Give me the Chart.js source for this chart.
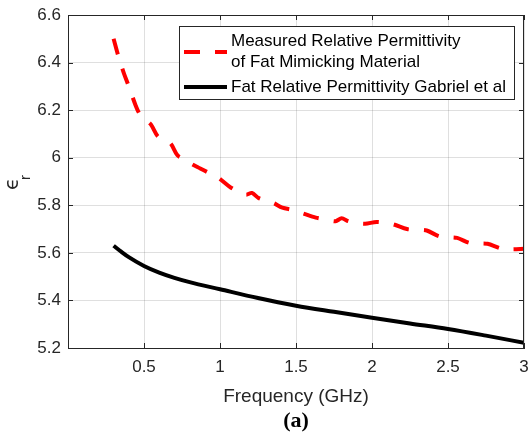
<!DOCTYPE html>
<html>
<head>
<meta charset="utf-8">
<script src="https://cdn.jsdelivr.net/npm/chart.js@4/dist/chart.umd.min.js"></script>
<style>
  html, body { margin: 0; padding: 0; background: #fff; }
  #wrap { width: 529px; height: 433px; }
</style>
</head>
<body>
<div id="wrap"><canvas id="myChart" width="529" height="433"></canvas></div>
<script>
// measured permittivity of the fat mimicking material
const measFreq = [0.30, 0.33, 0.365, 0.40, 0.445, 0.475, 0.51, 0.545, 0.59, 0.63, 0.675, 0.72, 0.76, 0.81, 0.87, 0.93, 0.99,
                  1.07, 1.17, 1.21, 1.255, 1.35, 1.41, 1.48, 1.55, 1.63, 1.70, 1.76, 1.80, 1.845, 1.90, 1.955,
                  2.03, 2.10, 2.15, 2.23, 2.30, 2.36, 2.44, 2.50, 2.56, 2.64, 2.70, 2.76, 2.85, 2.92, 3.00];
const measEps  = [6.50, 6.43, 6.36, 6.30, 6.22, 6.18, 6.16, 6.14, 6.09, 6.075, 6.06, 6.01, 5.995, 5.975, 5.955, 5.935, 5.915,
                  5.875, 5.845, 5.852, 5.83, 5.81, 5.79, 5.78, 5.765, 5.748, 5.74, 5.733, 5.745, 5.733, 5.725, 5.722,
                  5.73, 5.725, 5.718, 5.70, 5.697, 5.694, 5.67, 5.666, 5.663, 5.642, 5.64, 5.638, 5.618, 5.615, 5.617];

// Gabriel et al fat permittivity
const gabFreq = [0.30, 0.35, 0.40, 0.50, 0.60, 0.70, 0.80, 1.00, 1.25, 1.50, 1.75, 2.00, 2.25, 2.50, 2.75, 3.00];
const gabEps  = [5.63, 5.605, 5.582, 5.545, 5.517, 5.495, 5.477, 5.447, 5.41, 5.378, 5.352, 5.327, 5.303, 5.28, 5.252, 5.222];

const legendLines = [["Measured Relative Permittivity", "of Fat Mimicking Material"], ["Fat Relative Permittivity Gabriel et al"]];
const xTitle = "Frequency (GHz)";
const caption = "(a)";

const axisColor = '#262626';
const fontFam = '"Liberation Sans", Arial, Helvetica, sans-serif';

const toPoints = (xs, ys) => xs.map((x, i) => ({ x: x, y: ys[i] }));
const tickText = v => String(Number(v.toFixed(2)));

// box, inward ticks, axis titles and legend
const decorations = {
  id: 'decorations',
  afterDraw(chart) {
    const ctx = chart.ctx;
    const a = chart.chartArea;
    const xs = chart.scales.x, ys = chart.scales.y;
    ctx.save();
    ctx.strokeStyle = axisColor;
    ctx.lineWidth = 1;
    ctx.strokeRect(a.left + 0.5, a.top + 0.5, a.right - a.left - 1, a.bottom - a.top);

    ctx.beginPath();
    xs.ticks.forEach(t => {
      const px = Math.round(xs.getPixelForValue(t.value)) + 0.5;
      ctx.moveTo(px, a.bottom); ctx.lineTo(px, a.bottom - 5);
      ctx.moveTo(px, a.top); ctx.lineTo(px, a.top + 5);
    });
    ys.ticks.forEach(t => {
      const py = Math.round(ys.getPixelForValue(t.value)) + 0.5;
      ctx.moveTo(a.left, py); ctx.lineTo(a.left + 5, py);
      ctx.moveTo(a.right, py); ctx.lineTo(a.right - 5, py);
    });
    ctx.stroke();

    // x title and caption
    const cx = (a.left + a.right) / 2;
    ctx.fillStyle = axisColor;
    ctx.textAlign = 'center';
    ctx.textBaseline = 'middle';
    ctx.font = '19px ' + fontFam;
    ctx.fillText(xTitle, cx, 397);
    ctx.fillStyle = '#000';
    ctx.font = 'bold 22px "Liberation Serif", "Times New Roman", serif';
    ctx.fillText(caption, cx, 421);

    // y title: epsilon with subscript r
    ctx.save();
    ctx.translate(0, 190);
    ctx.rotate(-Math.PI / 2);
    ctx.fillStyle = axisColor;
    ctx.textAlign = 'left';
    ctx.textBaseline = 'alphabetic';
    ctx.font = '20px "DejaVu Sans", sans-serif';
    ctx.fillText('\u03F5', 0, 18);
    ctx.font = '15px ' + fontFam;
    ctx.fillText('r', 10, 30);
    ctx.restore();

    // legend
    const bx = 179, by = 26, bw = 335, bh = 73;
    ctx.fillStyle = '#fff';
    ctx.fillRect(bx, by, bw, bh);
    ctx.strokeStyle = axisColor;
    ctx.strokeRect(bx + 0.5, by + 0.5, bw, bh);
    const rows = [[41, 62], [87]];
    const sampleY = [52, 87];
    chart.data.datasets.forEach((ds, i) => {
      ctx.save();
      ctx.strokeStyle = ds.borderColor;
      ctx.lineWidth = ds.borderWidth;
      ctx.setLineDash(ds.borderDash || []);
      ctx.beginPath();
      ctx.moveTo(184, sampleY[i]);
      ctx.lineTo(227, sampleY[i]);
      ctx.stroke();
      ctx.restore();
      ctx.fillStyle = '#000';
      ctx.textAlign = 'left';
      ctx.textBaseline = 'middle';
      ctx.font = '17px ' + fontFam;
      legendLines[i].forEach((txt, j) => ctx.fillText(txt, 231, rows[i][j]));
    });
    ctx.restore();
  }
};

const ctx = document.getElementById('myChart').getContext('2d');
const chart = new Chart(ctx, {
  type: 'line',
  data: {
    datasets: [{
      label: legendLines[0].join(' '),
      data: toPoints(measFreq, measEps),
      borderColor: '#ff0000',
      borderWidth: 4,
      borderDash: [16, 15],
      pointRadius: 0,
      tension: 0.3,
      fill: false
    }, {
      label: legendLines[1][0],
      data: toPoints(gabFreq, gabEps),
      borderColor: '#000000',
      borderWidth: 4,
      pointRadius: 0,
      cubicInterpolationMode: 'monotone',
      fill: false
    }]
  },
  options: {
    responsive: false,
    animation: false,
    layout: { padding: { top: 15, right: 5, left: 0, bottom: 0 } },
    plugins: { legend: { display: false }, tooltip: { enabled: false } },
    scales: {
      x: {
        type: 'linear',
        min: 0, max: 3,
        afterFit: s => { s.height = 85; s.paddingLeft = 0; s.paddingRight = 0; },
        ticks: {
          stepSize: 0.5,
          padding: 9,
          maxRotation: 0,
          color: axisColor,
          font: { size: 17, family: fontFam },
          callback: v => (v === 0 ? '' : tickText(v))
        },
        grid: { color: 'rgba(38,38,38,0.15)', drawTicks: false },
        border: { color: axisColor }
      },
      y: {
        min: 5.2, max: 6.6,
        afterFit: s => { s.width = 68; s.paddingTop = 0; s.paddingBottom = 0; },
        ticks: {
          stepSize: 0.2,
          padding: 7,
          color: axisColor,
          font: { size: 17, family: fontFam },
          callback: v => tickText(v)
        },
        grid: { color: 'rgba(38,38,38,0.15)', drawTicks: false },
        border: { color: axisColor }
      }
    }
  },
  plugins: [decorations]
});
</script>
</body>
</html>
